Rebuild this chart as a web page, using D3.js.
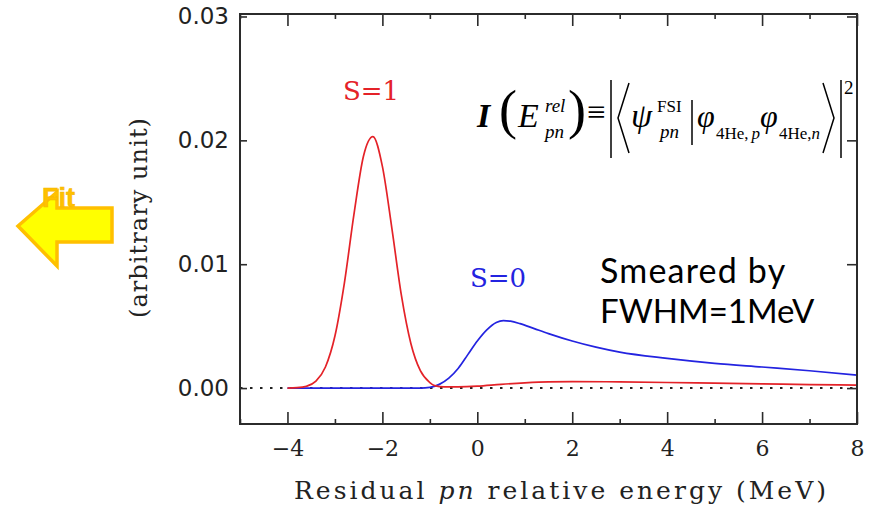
<!DOCTYPE html>
<html>
<head>
<meta charset="utf-8">
<script src="https://cdn.jsdelivr.net/npm/d3@7"></script>
<style>
  html, body { margin: 0; padding: 0; background: #fff; }
  svg { display: block; }
</style>
</head>
<body>
<svg id="chart" width="874" height="507"></svg>
<script>
// Energy grid (MeV) and intensities for the S=1 and S=0 channels
const s1Energy = [-4.0, -3.8, -3.6, -3.4, -3.2, -3.0, -2.8, -2.6, -2.4, -2.2, -2.0, -1.8, -1.6, -1.4, -1.2, -1.0, -0.9, -0.7, -0.4, 0.0, 0.5, 1.0, 1.5, 2.0, 3.0, 4.0, 5.0, 6.0, 7.0, 8.0];
const s1Value  = [0.0, 0.00003, 0.00015, 0.00056, 0.0017, 0.0042, 0.0085, 0.0140, 0.0187, 0.0203, 0.0179, 0.0129, 0.0075, 0.0036, 0.0014, 0.00044, 0.0002, 0.0001, 0.0001, 0.00015, 0.0003, 0.00042, 0.0005, 0.00052, 0.0005, 0.00045, 0.0004, 0.00034, 0.00028, 0.00024];

const s0Energy = [-4.0, -2.0, -1.2, -1.0, -0.8, -0.6, -0.4, -0.2, 0.0, 0.2, 0.4, 0.55, 0.7, 0.9, 1.2, 1.5, 2.0, 2.5, 3.0, 4.0, 5.0, 6.0, 7.0, 8.0];
const s0Value  = [0.0, 0.0, 0.0, 0.00005, 0.0003, 0.0008, 0.0016, 0.0027, 0.0038, 0.0047, 0.0053, 0.00545, 0.0054, 0.0052, 0.0048, 0.0044, 0.0038, 0.0033, 0.0029, 0.0024, 0.0020, 0.0017, 0.0014, 0.00105];

const xMajorTicks = [-4, -2, 0, 2, 4, 6, 8];
const xMinorTicks = [-5, -3, -1, 1, 3, 5, 7];
const yTicks = [0, 0.01, 0.02, 0.03];
const yTickLabels = ["0.00", "0.01", "0.02", "0.03"];

const svg = d3.select("#chart");
const x = d3.scaleLinear().domain([-5, 8]).range([240, 857]);
const y = d3.scaleLinear().domain([-0.0029, 0.0302]).range([424, 14]);

const frameColor = "#2b2b2b";
const serif = "'DejaVu Serif', 'Liberation Serif', serif";

// zero reference line
svg.append("line")
  .attr("x1", x(-5)).attr("x2", x(8))
  .attr("y1", y(0)).attr("y2", y(0))
  .attr("stroke", "#222").attr("stroke-width", 2)
  .attr("stroke-dasharray", "2.5,7.5");

// curves
const line = d3.line().x(d => x(d[0])).y(d => y(d[1])).curve(d3.curveMonotoneX);
svg.append("path")
  .datum(s0Energy.map((e, i) => [e, s0Value[i]]))
  .attr("d", line).attr("fill", "none")
  .attr("stroke", "#2323e0").attr("stroke-width", 1.7);
svg.append("path")
  .datum(s1Energy.map((e, i) => [e, s1Value[i]]))
  .attr("d", line).attr("fill", "none")
  .attr("stroke", "#e42228").attr("stroke-width", 1.7);

// axes with inward ticks on all four sides
function styleAxis(g) {
  g.select(".domain").remove();
  g.selectAll(".tick line").attr("stroke", frameColor).attr("stroke-width", 1.6);
}
svg.append("g").attr("transform", `translate(0,${y.range()[0]})`)
  .call(d3.axisBottom(x).tickValues(xMajorTicks).tickSize(-12).tickPadding(16)
    .tickFormat(d => d < 0 ? "\u2212" + Math.abs(d) : String(d)))
  .call(styleAxis)
  .call(g => g.selectAll("text").attr("font-family", serif).attr("font-size", 22).attr("fill", "#222"));
svg.append("g").attr("transform", `translate(0,${y.range()[0]})`)
  .call(d3.axisBottom(x).tickValues(xMinorTicks).tickSize(-5).tickFormat(""))
  .call(styleAxis);
svg.append("g").attr("transform", `translate(0,${y.range()[1]})`)
  .call(d3.axisTop(x).tickValues(xMajorTicks).tickSize(-12).tickFormat(""))
  .call(styleAxis);
svg.append("g").attr("transform", `translate(0,${y.range()[1]})`)
  .call(d3.axisTop(x).tickValues(xMinorTicks).tickSize(-5).tickFormat(""))
  .call(styleAxis);
svg.append("g").attr("transform", `translate(${x.range()[0]},0)`)
  .call(d3.axisLeft(y).tickValues(yTicks).tickSize(-7).tickPadding(11)
    .tickFormat((d, i) => yTickLabels[i]))
  .call(styleAxis)
  .call(g => g.selectAll("text").attr("font-family", "'DejaVu Sans', sans-serif").attr("font-size", 23).attr("fill", "#222"));
svg.append("g").attr("transform", `translate(${x.range()[1]},0)`)
  .call(d3.axisRight(y).tickValues(yTicks).tickSize(-10).tickFormat(""))
  .call(styleAxis);

// frame
svg.append("rect")
  .attr("x", x.range()[0]).attr("y", y.range()[1])
  .attr("width", x.range()[1] - x.range()[0]).attr("height", y.range()[0] - y.range()[1])
  .attr("fill", "none").attr("stroke", frameColor).attr("stroke-width", 2);

// axis titles
const xt = svg.append("text")
  .attr("x", 560).attr("y", 499).attr("text-anchor", "middle")
  .attr("font-family", serif).attr("font-size", 25).attr("fill", "#222")
  .attr("textLength", 532).attr("lengthAdjust", "spacing");
xt.append("tspan").text("Residual ");
xt.append("tspan").attr("font-style", "italic").text("pn");
xt.append("tspan").text(" relative energy (MeV)");

svg.append("text")
  .attr("transform", "translate(147,218) rotate(-90)")
  .attr("text-anchor", "middle")
  .attr("font-family", serif).attr("font-size", 24).attr("fill", "#222")
  .attr("textLength", 200).attr("lengthAdjust", "spacing")
  .text("(arbitrary unit)");

// curve labels
svg.append("text").attr("x", 343).attr("y", 100)
  .attr("font-family", serif).attr("font-size", 26).attr("fill", "#e42228").text("S=1");
svg.append("text").attr("x", 470).attr("y", 287)
  .attr("font-family", serif).attr("font-size", 26).attr("fill", "#2323e0").text("S=0");

// smearing note
svg.append("text").attr("x", 600).attr("y", 283)
  .attr("font-family", "Lato, 'Open Sans', sans-serif").attr("font-size", 34).attr("fill", "#000")
  .attr("letter-spacing", 1.2)
  .text("Smeared by");
svg.append("text").attr("x", 600).attr("y", 323)
  .attr("font-family", "Lato, 'Open Sans', sans-serif").attr("font-size", 33).attr("fill", "#000")
  .text("FWHM=1MeV");

// overlap-integral formula
const times = "'Liberation Serif', 'Times New Roman', serif";
const fm = svg.append("g").attr("fill", "#000").attr("font-family", times);
function t(px, py, size, str, italic, bold) {
  return fm.append("text").attr("x", px).attr("y", py).attr("font-size", size)
    .attr("font-style", italic ? "italic" : "normal")
    .attr("font-weight", bold ? "bold" : "normal").text(str);
}
t(477, 127, 34, "I", true, true);
t(499, 128, 54, "(", false, false);
t(518, 127, 34, "E", true, false);
t(545, 112, 19, "rel", true, false);
t(545, 138, 19, "pn", true, false);
t(568, 128, 54, ")", false, false);
t(587, 123, 33, "\u2261", false, false);
fm.append("line").attr("x1", 611).attr("x2", 611).attr("y1", 80).attr("y2", 158)
  .attr("stroke", "#000").attr("stroke-width", 1.5);
fm.append("polyline").attr("points", "629,83 618,118 629,153")
  .attr("fill", "none").attr("stroke", "#000").attr("stroke-width", 1.5);
t(631, 127, 34, "\u03C8", true, false);
t(657, 112, 17, "FSI", false, false);
t(660, 138, 19, "pn", true, false);
fm.append("line").attr("x1", 692).attr("x2", 692).attr("y1", 100).attr("y2", 145)
  .attr("stroke", "#000").attr("stroke-width", 1.5);
t(697, 127, 32, "\u03C6", true, false);
const s1 = t(716, 139, 17, "4He,", false, false);
s1.append("tspan").attr("dx", 3).attr("font-style", "italic").text("p");
t(760, 127, 32, "\u03C6", true, false);
const s2 = t(779, 139, 17, "4He,", false, false);
s2.append("tspan").attr("font-style", "italic").text("n");
fm.append("polyline").attr("points", "823,83 834,118 823,153")
  .attr("fill", "none").attr("stroke", "#000").attr("stroke-width", 1.5);
fm.append("line").attr("x1", 841).attr("x2", 841).attr("y1", 80).attr("y2", 158)
  .attr("stroke", "#000").attr("stroke-width", 1.5);
t(844, 94, 19, "2", false, false);

// "Fit" marker arrow with its label on top
svg.append("polygon")
  .attr("points", "18,226 57,192 57,208 112,208 112,242 57,242 57,266")
  .attr("fill", "#ffff00").attr("stroke", "#ffc000").attr("stroke-width", 3.5)
  .attr("stroke-linejoin", "miter");
svg.append("text").attr("x", 42).attr("y", 207)
  .attr("font-family", "'Liberation Sans', Arial, sans-serif").attr("font-weight", "bold")
  .attr("font-size", 27).attr("fill", "#ffc000")
  .attr("stroke", "#f5b800").attr("stroke-width", 0.6)
  .text("Fit");
</script>
</body>
</html>
